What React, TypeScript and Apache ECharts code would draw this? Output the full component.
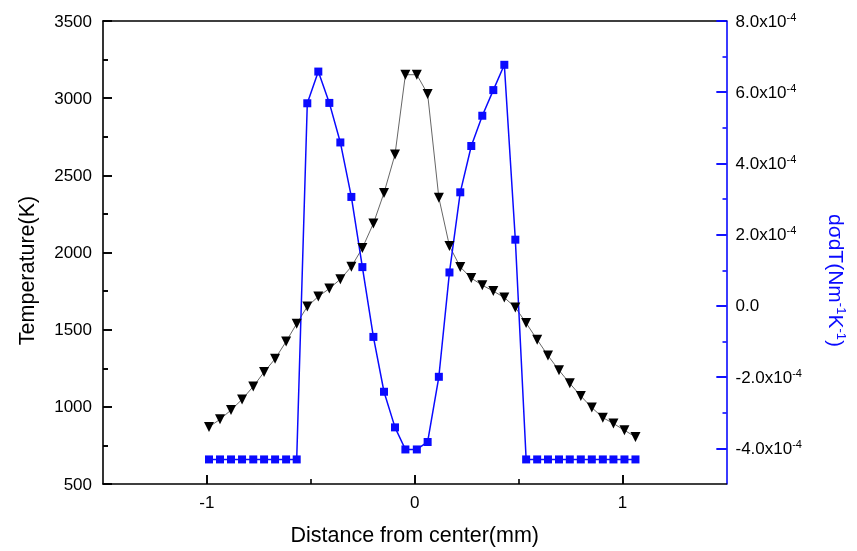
import React, { useEffect, useRef } from "react";
import * as echarts from "echarts";

// Distance from center (mm) of each sample point
const distance = [
  -0.99, -0.937, -0.884, -0.831, -0.777, -0.725, -0.672, -0.619, -0.568, -0.517,
  -0.464, -0.411, -0.358, -0.305, -0.252, -0.199, -0.148, -0.095, -0.045, 0.01,
  0.062, 0.116, 0.167, 0.219, 0.272, 0.325, 0.378, 0.431, 0.484, 0.536,
  0.589, 0.641, 0.694, 0.746, 0.799, 0.852, 0.905, 0.956, 1.009, 1.062,
];

// Temperature (K)
const temperature = [
  870, 919, 979, 1048, 1132, 1225, 1311, 1423, 1539, 1650,
  1715, 1766, 1827, 1908, 2029, 2188, 2386, 2635, 3152, 3152,
  3027, 2355, 2042, 1906, 1834, 1788, 1750, 1708, 1644, 1543,
  1435, 1332, 1237, 1152, 1070, 995, 930, 892, 848, 805,
];

// dσ/dT (N m^-1 K^-1)
const dSigmaDT = [
  -4.31e-4, -4.31e-4, -4.31e-4, -4.31e-4, -4.31e-4, -4.31e-4, -4.31e-4, -4.31e-4, -4.31e-4, 5.69e-4,
  6.58e-4, 5.7e-4, 4.59e-4, 3.06e-4, 1.09e-4, -0.87e-4, -2.41e-4, -3.41e-4, -4.03e-4, -4.03e-4,
  -3.82e-4, -1.99e-4, 0.94e-4, 3.19e-4, 4.49e-4, 5.34e-4, 6.06e-4, 6.77e-4, 1.86e-4, -4.31e-4,
  -4.31e-4, -4.31e-4, -4.31e-4, -4.31e-4, -4.31e-4, -4.31e-4, -4.31e-4, -4.31e-4, -4.31e-4, -4.31e-4,
];

const xTickValues = [-1, 0, 1];
const xMinorTickValues = [-0.5, 0.5];
const rightTickValues = [-4e-4, -2e-4, 0, 2e-4, 4e-4, 6e-4, 8e-4];
const rightMinorTickValues = [-3e-4, -1e-4, 1e-4, 3e-4, 5e-4, 7e-4];

const FONT = "'Liberation Sans', Arial, sans-serif";
const BLUE = "#0a0aff";
const BLACK = "#000";
const LW = 1.6;

function makeOption() {
  const xRange = { min: -1.5, max: 1.5 };
  const rRange = { min: -5e-4, max: 8e-4 };
  const tickOnlyX = (values: number[], length: number) => ({
    type: "value",
    ...xRange,
    position: "bottom",
    axisLine: { show: false, onZero: false },
    axisTick: { show: true, inside: true, length, customValues: values, lineStyle: { color: BLACK, width: LW } },
    axisLabel: { show: false },
    splitLine: { show: false },
  });
  const tickOnlyRight = (values: number[], length: number) => ({
    type: "value",
    ...rRange,
    position: "right",
    axisLine: { show: false, onZero: false },
    axisTick: { show: true, inside: true, length, customValues: values, lineStyle: { color: BLUE, width: LW } },
    axisLabel: { show: false },
    splitLine: { show: false },
  });
  return {
    animation: false,
    grid: { left: 103, right: 130.5, top: 21, bottom: 65.5 },
    xAxis: [
      {
        type: "value",
        ...xRange,
        axisLine: { show: true, onZero: false, lineStyle: { color: BLACK, width: LW } },
        axisTick: { show: true, inside: true, length: 9, customValues: xTickValues, lineStyle: { color: BLACK, width: LW } },
        axisLabel: { customValues: xTickValues, margin: 10, fontSize: 17, color: "#000", fontFamily: FONT },
        splitLine: { show: false },
        name: "Distance from center(mm)",
        nameLocation: "middle",
        nameGap: 40,
        nameTextStyle: { fontSize: 21.5, color: "#000", fontFamily: FONT },
      },
      {
        type: "value",
        ...xRange,
        position: "top",
        axisLine: { show: true, onZero: false, lineStyle: { color: BLACK, width: LW } },
        axisTick: { show: false },
        axisLabel: { show: false },
        splitLine: { show: false },
      },
      tickOnlyX(xMinorTickValues, 5),
      tickOnlyX(xTickValues, 9),
    ],
    yAxis: [
      {
        type: "value",
        min: 500,
        max: 3500,
        interval: 500,
        axisLine: { show: true, onZero: false, lineStyle: { color: BLACK, width: LW } },
        axisTick: { show: true, inside: true, length: 9, lineStyle: { color: BLACK, width: LW } },
        minorTick: { show: true, splitNumber: 2, length: 5, lineStyle: { color: BLACK, width: LW } },
        axisLabel: {
          margin: 11,
          fontSize: 17,
          color: "#000",
          fontFamily: FONT,
          formatter: (v: number) => String(v),
        },
        splitLine: { show: false },
        name: "Temperature(K)",
        nameLocation: "middle",
        nameGap: 65,
        nameTextStyle: { fontSize: 21.5, color: "#000", fontFamily: FONT, padding: [0, 36, 0, 0] },
      },
      {
        type: "value",
        ...rRange,
        position: "right",
        axisLine: { show: true, onZero: false, lineStyle: { color: BLUE, width: LW } },
        axisTick: { show: true, inside: true, length: 10, customValues: rightTickValues, lineStyle: { color: BLUE, width: LW } },
        axisLabel: {
          customValues: rightTickValues,
          margin: 9,
          color: "#000",
          formatter: (v: number) => {
            const m = Math.round(v * 1e5) / 10;
            if (m === 0) return "{n|0.0}";
            return `{n|${m.toFixed(1)}x10}{s|-4}`;
          },
          rich: {
            n: { fontSize: 17, fontFamily: FONT, color: "#000" },
            s: { fontSize: 11, fontFamily: FONT, color: "#000", padding: [0, 0, 9, 0] },
          },
        },
        splitLine: { show: false },
        name: "dσdT(Nm{s|-1}K{s|-1})",
        nameLocation: "middle",
        nameRotate: -90,
        nameGap: 98,
        nameTextStyle: {
          fontSize: 21,
          color: BLUE,
          fontFamily: FONT,
          padding: [0, 0, 0, 56],
          rich: {
            s: { fontSize: 13, fontFamily: FONT, color: BLUE, padding: [0, 0, 10, 0] },
          },
        },
      },
      tickOnlyRight(rightMinorTickValues, 4),
      {
        type: "value",
        min: 500,
        max: 3500,
        interval: 500,
        position: "left",
        axisLine: { show: false, onZero: false },
        axisTick: { show: true, inside: true, length: 9, lineStyle: { color: BLACK, width: LW } },
        minorTick: { show: true, splitNumber: 2, length: 5, lineStyle: { color: BLACK, width: LW } },
        axisLabel: { show: false },
        splitLine: { show: false },
      },
      tickOnlyRight(rightTickValues, 10),
    ],
    series: [
      {
        type: "line",
        xAxisIndex: 0,
        yAxisIndex: 0,
        data: distance.map((x, i) => [x, temperature[i]]),
        symbol: "triangle",
        symbolRotate: 180,
        symbolSize: 10,
        itemStyle: { color: "#000" },
        lineStyle: { color: "#666", width: 1 },
      },
      {
        type: "line",
        xAxisIndex: 0,
        yAxisIndex: 1,
        data: distance.map((x, i) => [x, dSigmaDT[i]]),
        symbol: "rect",
        symbolSize: 8,
        itemStyle: { color: BLUE },
        lineStyle: { color: BLUE, width: 1.5 },
      },
    ],
  };
}

export default function App() {
  const ref = useRef<HTMLDivElement>(null);

  useEffect(() => {
    if (!ref.current) return;
    const chart = echarts.init(ref.current, undefined, { renderer: "svg" });
    chart.setOption(makeOption());
    return () => chart.dispose();
  }, []);

  return <div ref={ref} style={{ position: "fixed", left: 0, top: 0, width: 857, height: 551 }} />;
}
